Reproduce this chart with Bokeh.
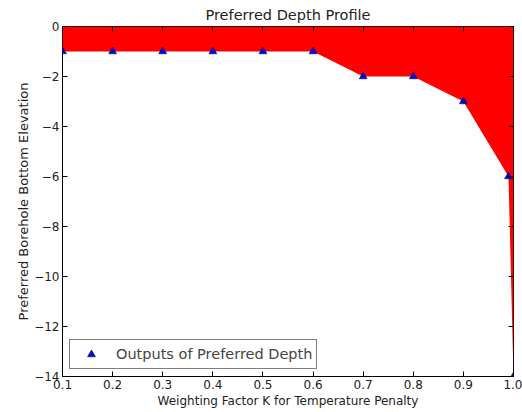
from bokeh.plotting import figure
from bokeh.models import LinearAxis, FixedTicker, Range1d, Legend, LegendItem, PrintfTickFormatter
from bokeh.embed import file_html
from bokeh.resources import INLINE

weights = [0.1, 0.2, 0.3, 0.4, 0.5, 0.6, 0.7, 0.8, 0.9, 0.99, 1.0]
depths = [-1, -1, -1, -1, -1, -1, -2, -2, -3, -6, -14]
x_ticks = [0.1, 0.2, 0.3, 0.4, 0.5, 0.6, 0.7, 0.8, 0.9, 1.0]
y_ticks = [0, -2, -4, -6, -8, -10, -12, -14]

FONT = "DejaVu Sans"

p = figure(width=522, height=412, output_backend="svg", toolbar_location=None,
           x_range=Range1d(0.1, 1.0), y_range=Range1d(-14, 0),
           min_border_left=62, min_border_right=9, min_border_top=17, min_border_bottom=36,
           title="Preferred Depth Profile")
p.title.align = "center"
p.title.text_font = FONT
p.title.text_font_style = "normal"
p.title.text_font_size = "14.5px"
p.title.text_color = "#222222"
p.title.offset = 0
p.title.standoff = 8
p.grid.visible = False
p.outline_line_color = "black"
p.outline_line_width = 1
p.background_fill_color = "white"

p.varea(x=weights, y1=depths, y2=[0] * len(weights), color="red")
r = p.scatter(weights, depths, marker="triangle", size=8, fill_color="blue",
              line_color="black", line_width=0.5)

def style_axis(ax, labels=True):
    ax.major_tick_in = 5
    ax.major_tick_out = 0
    ax.minor_tick_in = 0
    ax.minor_tick_out = 0
    ax.axis_line_color = None
    ax.major_tick_line_color = "black"
    ax.major_label_text_font = FONT
    ax.major_label_text_font_size = "12px"
    ax.major_label_text_color = "#222222" if labels else None
    ax.axis_label_text_font = FONT
    ax.axis_label_text_font_size = "12px"
    ax.axis_label_text_font_style = "normal"
    ax.axis_label_text_color = "#222222"

p.xaxis.ticker = FixedTicker(ticks=x_ticks)
p.xaxis.formatter = PrintfTickFormatter(format="%.1f")
p.yaxis.ticker = FixedTicker(ticks=y_ticks)
p.xaxis.axis_label = "Weighting Factor K for Temperature Penalty"
p.yaxis.axis_label = "Preferred Borehole Bottom Elevation"
style_axis(p.xaxis[0])
style_axis(p.yaxis[0])
p.yaxis.axis_label_text_font_size = "13px"
p.xaxis.major_label_standoff = 3
p.yaxis.major_label_standoff = 3
p.xaxis.axis_label_standoff = 2
p.yaxis.axis_label_standoff = 0

top = LinearAxis(ticker=FixedTicker(ticks=x_ticks))
right = LinearAxis(ticker=FixedTicker(ticks=y_ticks))
style_axis(top, labels=False)
style_axis(right, labels=False)
top.major_label_text_font_size = "0px"
right.major_label_text_font_size = "0px"
top.major_label_standoff = 0
right.major_label_standoff = 0
p.add_layout(top, "above")
p.add_layout(right, "right")

legend = Legend(items=[LegendItem(label="Outputs of Preferred Depth", renderers=[r])],
                location="bottom_left")
legend.label_text_font = FONT
legend.label_text_font_size = "14.5px"
legend.border_line_color = "black"
legend.border_line_width = 1
legend.margin = 7
legend.padding = 4
legend.glyph_width = 34
legend.label_standoff = 8
p.add_layout(legend)

open("out.html", "w").write(file_html(p, INLINE))
